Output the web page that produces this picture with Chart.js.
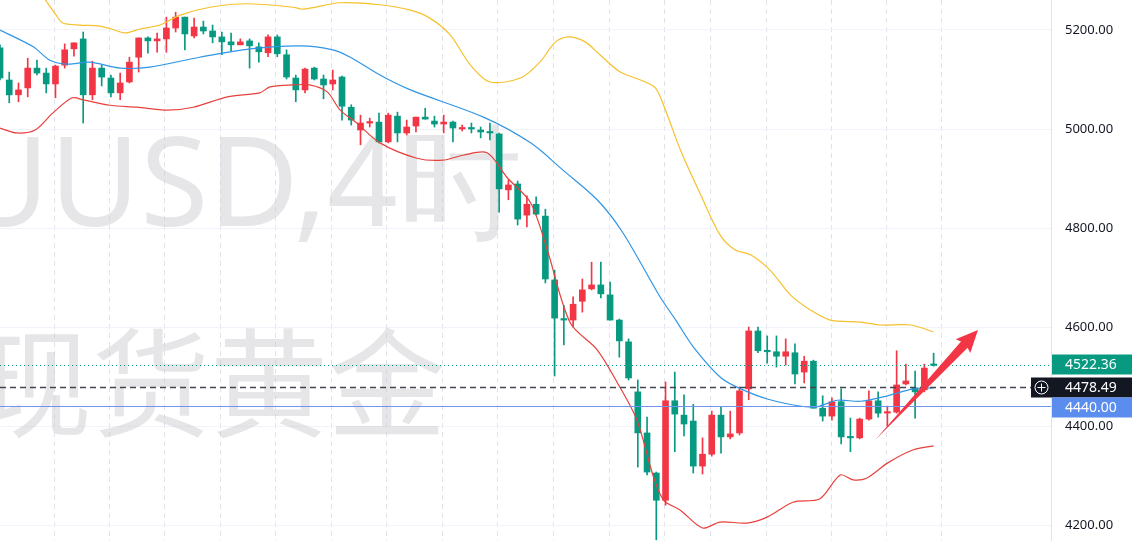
<!DOCTYPE html>
<html>
<head>
<meta charset="utf-8">
<script src="https://cdn.jsdelivr.net/npm/chart.js@4.4.1/dist/chart.umd.min.js"></script>
<style>
  html, body { margin: 0; padding: 0; background: #fff; }
  #wrap { width: 1132px; height: 541px; position: relative; }
</style>
</head>
<body>
<div id="wrap"><canvas id="chart"></canvas></div>
<script>
// 4h candles, oldest first: open, high, low, close
const opens  = [5164,5099,5069,5083,5123,5113,5091,5129,5162,5182,5069,5123,5103,5073,5095,5145,5184,5178,5182,5204,
                5226,5188,5206,5198,5186,5176,5170,5178,5166,5154,5186,5150,5103,5079,5123,5101,5091,5105,5044,4998,
                5012,5014,4974,5026,4992,5006,5024,5016,5010,5014,5000,5002,4998,4994,4990,4877,4889,4826,4848,4824,
                4695,4616,4614,4652,4677,4685,4665,4614,4570,4469,4386,4305,4250,4451,4422,4410,4319,4343,4422,4378,
                4386,4475,4592,4552,4550,4541,4548,4509,4531,4436,4420,4449,4378,4376,4414,4451,4426,4428,4485,4477,
                4473,4524];
const highs  = [5170,5115,5093,5143,5139,5123,5129,5172,5174,5196,5137,5129,5109,5113,5145,5184,5186,5194,5226,5236,
                5226,5224,5218,5210,5196,5194,5182,5182,5174,5190,5190,5160,5109,5123,5125,5109,5119,5107,5049,5028,
                5022,5032,5032,5034,5018,5024,5042,5026,5028,5016,5008,5012,5004,5012,4992,4897,4895,4865,4863,4838,
                4715,4644,4661,4697,4731,4731,4691,4616,4576,4493,4418,4307,4489,4509,4463,4444,4376,4430,4438,4430,
                4479,4600,4600,4582,4582,4576,4566,4541,4533,4461,4457,4475,4416,4416,4471,4469,4440,4552,4525,4511,
                4525,4547];
const lows   = [5099,5053,5055,5065,5109,5073,5063,5123,5147,5012,5059,5087,5065,5059,5093,5115,5153,5155,5155,5196,
                5160,5184,5192,5174,5150,5156,5170,5123,5135,5146,5146,5101,5055,5073,5099,5061,5079,5018,5008,4968,
                5004,4972,4972,4974,4988,4994,5020,5004,4992,4974,4996,4992,4982,4978,4832,4857,4806,4802,4826,4689,
                4501,4564,4600,4630,4675,4659,4614,4539,4493,4317,4301,4170,4240,4348,4380,4305,4303,4339,4345,4374,
                4382,4453,4548,4527,4519,4523,4485,4487,4436,4410,4412,4364,4348,4374,4412,4418,4400,4426,4483,4416,
                4469,4521];
const closes = [5103,5069,5079,5123,5113,5091,5127,5160,5174,5069,5123,5105,5073,5093,5135,5184,5178,5182,5204,5226,
                5192,5206,5198,5186,5176,5170,5176,5168,5156,5186,5152,5105,5079,5121,5101,5089,5099,5046,5018,5012,
                5014,4974,5028,4992,5004,5024,5020,5010,5014,5002,5002,5000,4994,4992,4879,4887,4818,4848,4828,4697,
                4618,4614,4646,4675,4685,4667,4614,4572,4497,4386,4307,4250,4451,4424,4404,4319,4343,4422,4378,4384,
                4471,4592,4552,4550,4541,4550,4505,4531,4436,4420,4449,4378,4376,4414,4451,4426,4428,4483,4491,4469,
                4517,4522.36];

// Bollinger bands: [candle index, price]
const upperBand = [[4.9,5261],[6.0,5232],[6.8,5214],[8.7,5210],[10.8,5208],[12.4,5200],[13.5,5194],[15.2,5202],
                   [17.3,5210],[19.5,5230],[22.7,5246],[26.7,5253],[31.7,5246],[32.8,5242],[36.8,5255],[41.1,5251],
                   [44.4,5240],[46.5,5224],[48.7,5190],[50.9,5129],[53.0,5095],[56.3,5103],[58.4,5135],[60.1,5176],
                   [61.5,5186],[63.3,5176],[64.9,5150],[67.1,5115],[69.3,5099],[70.9,5083],[72.0,5038],[73.6,4958],
                   [75.8,4867],[77.9,4786],[79.5,4756],[81.2,4746],[83.3,4715],[85.5,4665],[87.7,4634],[89.8,4614],
                   [93.1,4610],[95.2,4604],[98.5,4604],[101,4590]];
const middleBand = [[0,5200],[3.6,5166],[5.4,5139],[7.3,5131],[9.7,5135],[13.0,5123],[16.2,5125],[21.6,5145],
                    [27.1,5162],[32.5,5168],[36.0,5160],[37.9,5145],[41.1,5109],[44.4,5079],[52.3,5024],[57.4,4972],
                    [60.9,4917],[64.6,4857],[67.4,4790],[71.4,4661],[73.1,4614],[75.0,4560],[77.9,4499],[79.9,4477],
                    [83.3,4453],[88.0,4438],[90.6,4452],[93.1,4450],[96.0,4461],[98.8,4475],[101,4477]];
const lowerBand  = [[0,5002],[1.8,4992],[3.8,4998],[5.7,5032],[7.8,5063],[9.0,5059],[11.9,5048],[14.8,5044],
                    [18.1,5038],[20.9,5044],[24.6,5065],[28.1,5073],[29.2,5085],[31.7,5089],[33.5,5089],[35.4,5075],
                    [36.8,5038],[38.6,5012],[41.1,4972],[45.1,4941],[47.9,4937],[50.1,4947],[52.7,4952],[54.9,4901],
                    [57.4,4851],[59.2,4756],[61.7,4608],[64.6,4554],[66.8,4487],[68.9,4412],[70.7,4297],[71.8,4250],
                    [73.6,4230],[76.0,4194],[77.9,4206],[80.8,4204],[83.0,4216],[85.8,4246],[88.7,4253],[90.9,4301],
                    [92.3,4291],[93.8,4295],[96.0,4325],[98.8,4352],[101,4360]];

const priceTicks = [4200, 4400, 4600, 4800, 5000, 5200];
const timeGrid = [2.8, 8.9, 14.8, 20.9, 26.8, 32.8, 38.9, 44.8, 50.9, 56.8, 63, 68.9, 74.9, 78.9, 86.9, 93, 98.9];
const lastPrice = 4522.36;
const crossPrice = 4478.49;
const alertPrice = 4440.00;
const arrowFrom = [94.7, 4372];
const arrowTo = [105.8, 4594];

const UP = '#f23645', DOWN = '#089981';
const colors = opens.map((o, i) => closes[i] >= o ? UP : DOWN);
const bodies = opens.map((o, i) => ({ x: i, y: [o, closes[i]] }));
const wicks = opens.map((o, i) => ({ x: i, y: [lows[i], highs[i]] }));
const pts = arr => arr.map(p => ({ x: p[0], y: p[1] }));

const overlay = {
    id: 'overlay',
    beforeDatasetsDraw(chart) {
        const { ctx, chartArea: a } = chart;
        ctx.save();
        ctx.beginPath();
        ctx.rect(a.left, a.top, a.right - a.left, a.bottom - a.top);
        ctx.clip();
        ctx.fillStyle = 'rgba(200,200,205,0.45)';
        ctx.textAlign = 'right';
        ctx.textBaseline = 'alphabetic';
        ctx.font = '124px "Noto Sans", sans-serif';
        ctx.fillText('XAUUSD,4时', 522, 226);
        ctx.font = '118px "Noto Sans CJK SC", sans-serif';
        ctx.fillText('现货黄金', 446, 428);
        ctx.restore();
    },
    afterDatasetsDraw(chart) {
        const { ctx, chartArea: a, scales } = chart;
        const x = scales.x, y = scales.y;
        ctx.save();
        // price axis labels
        ctx.font = '13px "Noto Sans", sans-serif';
        ctx.fillStyle = '#131722';
        ctx.textBaseline = 'middle';
        ctx.textAlign = 'left';
        priceTicks.forEach(p => ctx.fillText(p.toFixed(2), a.right + 14, y.getPixelForValue(p)));

        const hline = (p, color, dash, w) => {
            const py = Math.round(y.getPixelForValue(p)) + 0.5;
            ctx.strokeStyle = color; ctx.lineWidth = w; ctx.setLineDash(dash);
            ctx.beginPath(); ctx.moveTo(a.left, py); ctx.lineTo(a.right, py); ctx.stroke();
            return py;
        };
        const yl = hline(lastPrice, DOWN, [1, 3], 1);
        const ya = hline(alertPrice, '#6f94f0', [], 1.2);
        const yc = hline(crossPrice, '#434651', [6, 4], 1.6);
        ctx.setLineDash([]);

        // arrow
        const x0 = x.getPixelForValue(arrowFrom[0]), y0 = y.getPixelForValue(arrowFrom[1]);
        const x1 = x.getPixelForValue(arrowTo[0]), y1 = y.getPixelForValue(arrowTo[1]);
        const ang = Math.atan2(y1 - y0, x1 - x0), len = Math.hypot(x1 - x0, y1 - y0);
        ctx.save();
        ctx.translate(x0, y0); ctx.rotate(ang);
        ctx.fillStyle = UP;
        ctx.beginPath();
        ctx.moveTo(0, 0);
        ctx.lineTo(len - 20, -4.5); ctx.lineTo(len - 22, -10); ctx.lineTo(len, 0);
        ctx.lineTo(len - 22, 10); ctx.lineTo(len - 20, 4.5);
        ctx.closePath(); ctx.fill();
        ctx.restore();

        // price labels on the axis
        ctx.font = '14px "Noto Sans", sans-serif';
        const label = (py, text, bg) => {
            ctx.fillStyle = bg;
            ctx.fillRect(a.right + 1, py - 10, chart.width - a.right, 20);
            ctx.fillStyle = '#fff';
            ctx.fillText(text, a.right + 14, py + 1);
        };
        label(yl - 1, lastPrice.toFixed(2), DOWN);
        label(yc, crossPrice.toFixed(2), '#131722');
        label(ya + 1, alertPrice.toFixed(2), '#5b8def');
        // crosshair button
        ctx.fillStyle = '#131722';
        ctx.fillRect(a.right - 20, yc - 10, 21, 20);
        ctx.strokeStyle = '#fff'; ctx.lineWidth = 1;
        ctx.beginPath(); ctx.arc(a.right - 9.5, yc, 6.5, 0, Math.PI * 2); ctx.stroke();
        ctx.beginPath();
        ctx.moveTo(a.right - 9.5, yc - 4); ctx.lineTo(a.right - 9.5, yc + 4);
        ctx.moveTo(a.right - 13.5, yc); ctx.lineTo(a.right - 5.5, yc);
        ctx.stroke();
        ctx.restore();
    }
};

new Chart(document.getElementById('chart'), {
    data: {
        datasets: [
            { type: 'line', data: pts(upperBand), borderColor: '#f5c12c', borderWidth: 1.2, pointRadius: 0, tension: 0.3 },
            { type: 'line', data: pts(middleBand), borderColor: '#2f95e6', borderWidth: 1.2, pointRadius: 0, tension: 0.3 },
            { type: 'line', data: pts(lowerBand), borderColor: '#e8403c', borderWidth: 1.2, pointRadius: 0, tension: 0.3 },
            { type: 'bar', data: wicks, backgroundColor: colors, barThickness: 1, grouped: false },
            { type: 'bar', data: bodies, backgroundColor: colors, barThickness: 6, minBarLength: 1.5, grouped: false }
        ]
    },
    options: {
        responsive: true,
        maintainAspectRatio: false,
        animation: false,
        layout: { padding: 0 },
        plugins: { legend: { display: false }, tooltip: { enabled: false } },
        scales: {
            x: {
                type: 'linear', min: 0, max: 113.7, offset: false,
                afterBuildTicks: axis => { axis.ticks = timeGrid.map(v => ({ value: v })); },
                afterFit: axis => { axis.height = 0; },
                ticks: { display: false },
                grid: { color: '#e0e3eb', drawTicks: false },
                border: { display: false, dash: [5, 4] }
            },
            y: {
                position: 'right', min: 4167.7, max: 5260.6,
                afterBuildTicks: axis => { axis.ticks = priceTicks.map(v => ({ value: v })); },
                afterFit: axis => { axis.width = 81; },
                ticks: { display: false },
                grid: { color: '#f0f3fa', drawTicks: false },
                border: { color: '#e0e3eb' }
            }
        }
    },
    plugins: [overlay]
});
</script>
</body>
</html>
